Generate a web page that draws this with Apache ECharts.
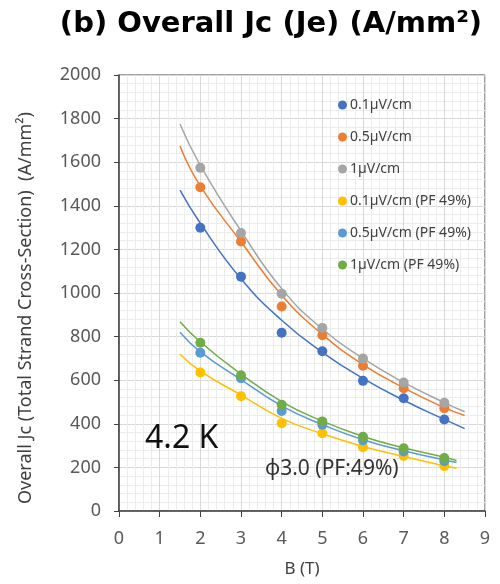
<!DOCTYPE html>
<html>
<head>
<meta charset="utf-8">
<script src="https://cdn.jsdelivr.net/npm/echarts@6/dist/echarts.min.js"></script>
<style>html,body{margin:0;padding:0;background:#fff}#c{width:500px;height:584px}</style>
</head>
<body>
<div id="c"></div>
<script>
// Measured data (B in T, Jc in A/mm2)
const fields = [2, 3, 4, 5, 6, 7, 8];
const seriesNames = ["0.1µV/cm", "0.5µV/cm", "1µV/cm", "0.1µV/cm (PF 49%)", "0.5µV/cm (PF 49%)", "1µV/cm (PF 49%)"];
const jc01 = [1299, 1075, 818, 733, 597, 517, 420];
const jc05 = [1485, 1236, 938, 806, 666, 563, 471];
const jc1 = [1574, 1275, 997, 840, 699, 589, 496];
const jc01pf = [635, 526, 403, 357, 293, 252, 206];
const jc05pf = [726, 609, 459, 396, 324, 273, 228];
const jc1pf = [772, 623, 487, 411, 341, 288, 243];

// Trend lines
const trendXUpper = [1.5, 2, 3, 4, 5, 6, 7, 8, 8.5];
const trendXLower = [1.5, 2, 3, 4, 5, 6, 7, 8, 8.3];
const trend01 = [1472, 1320, 1065, 875, 728, 608, 508, 420, 378];
const trend05 = [1674, 1490, 1235, 990, 810, 672, 565, 474, 438];
const trend1 = [1775, 1585, 1285, 1020, 835, 700, 590, 497, 455];
const trend01pf = [719, 642, 532, 425, 354, 296, 250, 208, 196];
const trend05pf = [820, 730, 603, 482, 396, 327, 276, 234, 222];
const trend1pf = [868, 775, 628, 502, 412, 342, 290, 247, 232];

const xTicks = [0, 1, 2, 3, 4, 5, 6, 7, 8, 9];
const yTicks = [0, 200, 400, 600, 800, 1000, 1200, 1400, 1600, 1800, 2000];

const colors = ["#4472C4", "#ED7D31", "#A5A5A5", "#FFC000", "#5B9BD5", "#70AD47"];
const pts = [jc01, jc05, jc1, jc01pf, jc05pf, jc1pf];
const trends = [trend01, trend05, trend1, trend01pf, trend05pf, trend1pf];
const trendXs = [trendXUpper, trendXUpper, trendXUpper, trendXLower, trendXLower, trendXLower];

const series = [];
trends.forEach((t, i) => {
  series.push({
    type: 'line', name: 'trend' + i, data: t.map((v, k) => [trendXs[i][k], v]),
    smooth: 0.5, showSymbol: false, symbol: 'none',
    lineStyle: { color: colors[i], width: 1.5 }, z: 2, silent: true
  });
});
pts.forEach((p, i) => {
  series.push({
    type: 'scatter', name: seriesNames[i], data: p.map((v, k) => [fields[k], v]),
    symbol: 'circle', symbolSize: 10, itemStyle: { color: colors[i], opacity: 1 }, z: 3
  });
});

const chart = echarts.init(document.getElementById('c'), null, { renderer: 'canvas' });
const FONT = 'Noto Sans';
chart.setOption({
  animation: false,
  backgroundColor: '#fff',
  title: {
    text: '(b) Overall Jc (Je) (A/mm²)', left: 266, top: 5, textAlign: 'center',
    textStyle: { fontFamily: 'DejaVu Sans', fontWeight: 'bold', fontSize: 29, color: '#000' }
  },
  grid: { left: 119, right: 15, top: 75, bottom: 73, show: true, borderColor: '#404040', borderWidth: 1, backgroundColor: 'transparent' },
  legend: {
    data: seriesNames, orient: 'vertical', left: 333, top: 93, itemGap: 18,
    itemWidth: 9, itemHeight: 9, icon: 'circle', itemStyle: { borderWidth: 0 },
    textStyle: { fontFamily: FONT, fontSize: 14, color: '#404040', padding: [0, 0, 0, -2] }
  },
  xAxis: {
    type: 'value', min: 0, max: 9, interval: 1,
    name: 'B (T)', nameLocation: 'middle', nameGap: 50,
    nameTextStyle: { fontFamily: FONT, fontSize: 17, color: '#404040' },
    axisLine: { show: true, onZero: false, lineStyle: { color: '#404040', width: 1.5 } },
    axisTick: { show: true, inside: false, length: 6, lineStyle: { color: '#404040' } },
    axisLabel: { fontFamily: FONT, fontSize: 18, color: '#595959', margin: 19, formatter: v => xTicks.includes(v) ? String(v) : '' },
    splitLine: { show: true, lineStyle: { color: '#d9d9d9', width: 1 } },
    minorTick: { show: false, splitNumber: 5 },
    minorSplitLine: { show: true, lineStyle: { color: '#ececec', width: 1 } }
  },
  yAxis: {
    type: 'value', min: 0, max: 2000, interval: 200,
    name: 'Overall Jc (Total Strand Cross-Section)  (A/mm²)', nameLocation: 'middle', nameGap: 84,
    nameTextStyle: { fontFamily: FONT, fontSize: 18, color: '#404040', padding: [0, 30, 0, 0] },
    axisLine: { show: true, lineStyle: { color: '#404040', width: 1.5 } },
    axisTick: { show: true, inside: false, length: 5, lineStyle: { color: '#404040' } },
    axisLabel: { fontFamily: FONT, fontSize: 18, color: '#595959', margin: 18, formatter: v => yTicks.includes(v) ? String(v) : '' },
    splitLine: { show: true, lineStyle: { color: '#d9d9d9', width: 1 } },
    minorTick: { show: false, splitNumber: 5 },
    minorSplitLine: { show: true, lineStyle: { color: '#ececec', width: 1 } }
  },
  graphic: [
    { type: 'text', left: 145, top: 423, silent: true, z: 100,
      style: { text: '4.2 K', fontFamily: 'Noto Sans', fontSize: 32, fill: '#111' } },
    { type: 'text', left: 265, top: 459, silent: true, z: 100,
      style: { text: 'ϕ3.0 (PF:49%)', fontFamily: 'Noto Sans', fontSize: 21, fill: '#333' } }
  ],
  series: series
});
</script>
</body>
</html>
